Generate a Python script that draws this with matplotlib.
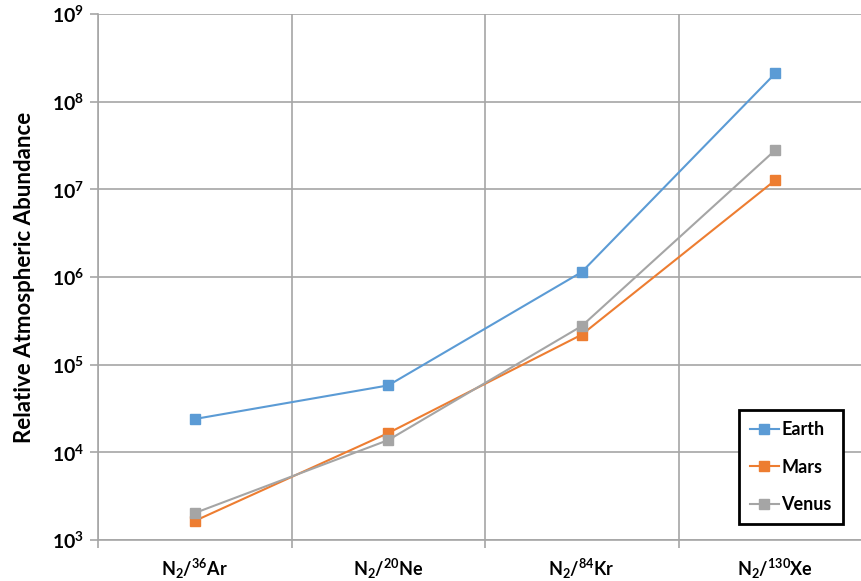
import numpy as np
import matplotlib.pyplot as plt

# Data
categories = [r"$\mathbf{N_2/^{36}Ar}$", r"$\mathbf{N_2/^{20}Ne}$",
              r"$\mathbf{N_2/^{84}Kr}$", r"$\mathbf{N_2/^{130}Xe}$"]
earth = [2.4e4, 5.8e4, 1.14e6, 2.1e8]
mars = [1.65e3, 1.66e4, 2.2e5, 1.27e7]
venus = [2.03e3, 1.38e4, 2.76e5, 2.8e7]
ytick_vals = [1e3, 1e4, 1e5, 1e6, 1e7, 1e8, 1e9]
ytick_labels = [r"$\mathbf{10^{%d}}$" % i for i in range(3, 10)]

plt.rcParams['font.family'] = ['Lato', 'DejaVu Sans']
plt.rcParams['mathtext.fontset'] = 'custom'
plt.rcParams['mathtext.rm'] = 'Lato'
plt.rcParams['mathtext.bf'] = 'Lato:bold'

fig = plt.figure(figsize=(8.61, 5.81), dpi=100)
ax = fig.add_axes([98/861, 41/581, 774/861, 526/581])

x = np.arange(len(categories))
ax.plot(x, earth, color='#5B9BD5', marker='s', markersize=7, lw=1.5, label='Earth')
ax.plot(x, mars, color='#ED7D31', marker='s', markersize=7, lw=1.5, label='Mars')
ax.plot(x, venus, color='#A5A5A5', marker='s', markersize=7, lw=1.5, label='Venus')

ax.set_yscale('log')
ax.set_ylim(1e3, 1e9)
ax.set_xlim(-0.5, 3.5)
ax.set_yticks(ytick_vals)
ax.set_yticklabels(ytick_labels, fontsize=14)
ax.minorticks_off()
ax.set_xticks(x)
ax.set_xticklabels(categories, fontsize=13)
ax.set_xticks([-0.5, 0.5, 1.5, 2.5, 3.5], minor=True)

ax.grid(True, axis='y', color='#A6A6A6', lw=1.2)
ax.grid(True, axis='x', which='minor', color='#A6A6A6', lw=1.2)
ax.set_axisbelow(True)
ax.tick_params(axis='x', which='major', length=0, pad=12)
ax.tick_params(axis='x', which='minor', length=6, color='#A6A6A6', width=1.2)
ax.tick_params(axis='y', length=6, color='#A6A6A6', width=1.2, pad=4)
for s in ['top', 'right']:
    ax.spines[s].set_visible(False)
for s in ['left', 'bottom']:
    ax.spines[s].set_color('#A6A6A6')
    ax.spines[s].set_linewidth(1.2)

ax.set_ylabel('Relative Atmospheric Abundance', fontsize=16, fontweight='bold', labelpad=12)

leg = ax.legend(loc='upper left', bbox_to_anchor=(739/861, 1 - 410/581),
                bbox_transform=fig.transFigure, fancybox=False, framealpha=1,
                edgecolor='black', fontsize=13, labelspacing=1.15,
                handlelength=1.6, handletextpad=0.15, borderpad=0.6,
                borderaxespad=0)
leg.get_frame().set_linewidth(2)
for t in leg.get_texts():
    t.set_fontweight('bold')

fig.savefig('out.png', dpi=100)
